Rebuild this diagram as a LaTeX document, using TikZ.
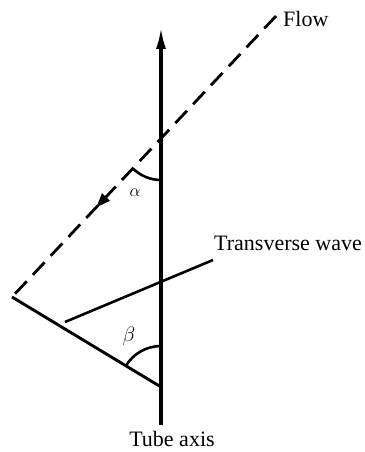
\documentclass[tikz,border=0pt]{standalone}
\usepackage{fontspec}
\setmainfont{Liberation Serif}
\usetikzlibrary{positioning, arrows.meta, calc, decorations.markings}

\begin{document}
\begin{tikzpicture}[
    x=1pt, y=1pt,
    font=\fontsize{22}{26}\selectfont,
    axisline/.style={line width=3.2pt},
    flowline/.style={line width=2.8pt, dash pattern=on 17pt off 9pt},
    waveline/.style={line width=2.6pt},
    anglearc/.style={line width=2.6pt},
    label/.style={inner sep=0pt}
]

\useasboundingbox (0, 0) rectangle (364, -452);

% key points of the sketch
\coordinate (axbot)   at (161, -425);
\coordinate (axtop)   at (161, -27);
\coordinate (corner)  at (12, -297);
\coordinate (flowend) at (276, -16);
\coordinate (cross)   at (161, -140);
\coordinate (foot)    at (161, -387);
\coordinate (wavelo)  at (65, -322);
\coordinate (wavehi)  at (213, -260);

% tube axis
\draw[axisline, -{Latex[length=22pt, width=10pt]}] (axbot) -- (axtop);

% flow direction, dashed, with its arrow partway down
\draw[flowline, postaction={decorate}, decoration={markings,
        mark=at position 0.67 with {\fill[solid] (4pt, 0) -- (-10pt, 5.5pt) -- (-10pt, -5.5pt) -- cycle;}}]
    (flowend) -- (corner);

% wave front and its normal
\draw[axisline, line width=2.9pt] (corner) -- (foot);
\draw[waveline] (wavelo) -- (wavehi);

% angles
\draw[anglearc] ($(cross)+(226.5:40)$) arc[start angle=226.5, end angle=270, radius=40];
\draw[anglearc] ($(foot)+(90:41)$) arc[start angle=90, end angle=148.9, radius=41];

\node[label, font=\fontsize{18}{20}\selectfont] (alpha) at (135, -193) {$\alpha$};
\node[label, font=\fontsize{21}{24}\selectfont] (beta) at (129, -336) {$\beta$};

\node[label, anchor=base west] (flow) at (283, -27) {Flow};
\node[label, anchor=base west] (wave) at (214, -250) {Transverse wave};
\node[label, anchor=base] (tube) at (172, -446) {Tube axis};

\end{tikzpicture}
\end{document}
